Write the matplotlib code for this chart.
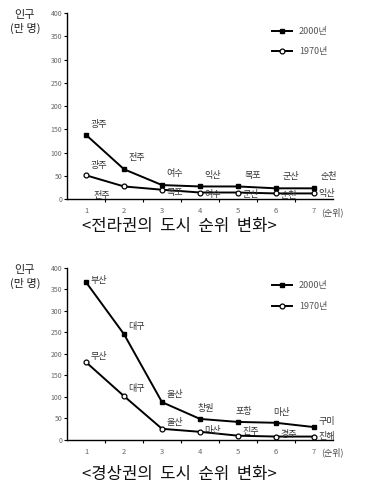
import matplotlib
matplotlib.use('Agg')
import matplotlib.pyplot as plt

plt.rcParams['font.family'] = ['Noto Sans CJK KR', 'DejaVu Sans']

RANKS = [1, 2, 3, 4, 5, 6, 7]

# 전라권
jeolla_2000 = [138, 64, 30, 27, 27, 23, 23]
jeolla_2000_names = ['광주', '전주', '여수', '익산', '목포', '군산', '순천']
jeolla_1970 = [51, 27, 20, 14, 14, 12, 12]
jeolla_1970_names = ['광주', '전주', '목포', '여수', '군산', '순천', '익산']

# 경상권
gyeong_2000 = [367, 246, 88, 49, 42, 40, 30]
gyeong_2000_names = ['부산', '대구', '울산', '창원', '포항', '마산', '구미']
gyeong_1970 = [181, 102, 26, 19, 10, 8, 8]
gyeong_1970_names = ['무산', '대구', '울산', '마산', '진주', '경주', '진해']

YTICKS = [0, 50, 100, 150, 200, 250, 300, 350, 400]

# label offsets (points) for each city name
jeolla_2000_off = [(3, 4), (3, 5), (3, 5), (3, 5), (5, 5), (5, 5), (5, 5)]
jeolla_1970_off = [(3, 4), (-22, -10), (3, -5), (3, -5), (3, -5), (3, -5), (3, -3)]
gyeong_2000_off = [(3, -2), (3, 2), (3, 2), (-2, 4), (-2, 4), (-2, 4), (3, 1)]
gyeong_1970_off = [(3, 1), (3, 2), (3, 1), (3, -2), (3, 0), (3, -2), (3, -3)]

fig = plt.figure(figsize=(3.67, 4.92), dpi=100)


def draw_panel(rect, v2000, n2000, o2000, v1970, n1970, o1970, title, title_y):
    ax = fig.add_axes(rect)
    ax.plot(RANKS, v2000, color='black', lw=1.4, marker='s', ms=3.3,
            mfc='black', mec='black', label='2000년')
    ax.plot(RANKS, v1970, color='black', lw=1.4, marker='o', ms=3.5,
            mfc='white', mec='black', mew=0.9, label='1970년')
    for x, y, name, off in zip(RANKS, v2000, n2000, o2000):
        ax.annotate(name, (x, y), xytext=off, textcoords='offset points',
                    fontsize=6.5, color='#333333', va='bottom')
    for x, y, name, off in zip(RANKS, v1970, n1970, o1970):
        ax.annotate(name, (x, y), xytext=off, textcoords='offset points',
                    fontsize=6.5, color='#333333', va='bottom')

    ax.set_xlim(0.5, 7.5)
    ax.set_ylim(0, 400)
    ax.set_yticks(YTICKS)
    ax.set_yticklabels([str(t) for t in YTICKS], fontsize=5, color='#666666')
    ax.set_xticks([r + 0.5 for r in RANKS[:-1]])
    ax.set_xticklabels([])
    ax.tick_params(axis='x', length=2.5, width=0.8)
    ax.tick_params(axis='y', length=2.5, width=0.8, pad=1)
    for r in RANKS:
        ax.text(r, -18, str(r), fontsize=5.5, color='#666666',
                ha='center', va='top')
    ax.text(7.2, -18, '(순위)', fontsize=6.5, color='#444444', ha='left', va='top')
    ax.spines['top'].set_visible(False)
    ax.spines['right'].set_visible(False)
    ax.spines['left'].set_linewidth(1.0)
    ax.spines['bottom'].set_linewidth(1.0)

    ax.text(-0.158, 1.015, '인구\n(만 명)', transform=ax.transAxes, fontsize=8,
            ha='center', va='top', multialignment='center',
            linespacing=1.25, color='#222222')

    ax.legend(loc='upper left', bbox_to_anchor=(0.74, 0.97), frameon=False,
              fontsize=6.5, handlelength=2.2, labelspacing=1.3,
              labelcolor='#555555')

    fig.text(0.49, title_y, title, fontsize=12, ha='center', va='center',
             color='#111111')
    return ax


draw_panel([0.1826, 0.5955, 0.7248, 0.378],
           jeolla_2000, jeolla_2000_names, jeolla_2000_off,
           jeolla_1970, jeolla_1970_names, jeolla_1970_off,
           '<전라권의  도시  순위  변화>', 1 - 227 / 492)

draw_panel([0.1826, 0.1057, 0.7248, 0.3496],
           gyeong_2000, gyeong_2000_names, gyeong_2000_off,
           gyeong_1970, gyeong_1970_names, gyeong_1970_off,
           '<경상권의  도시  순위  변화>', 1 - 475 / 492)

fig.savefig('out.png', dpi=100)
